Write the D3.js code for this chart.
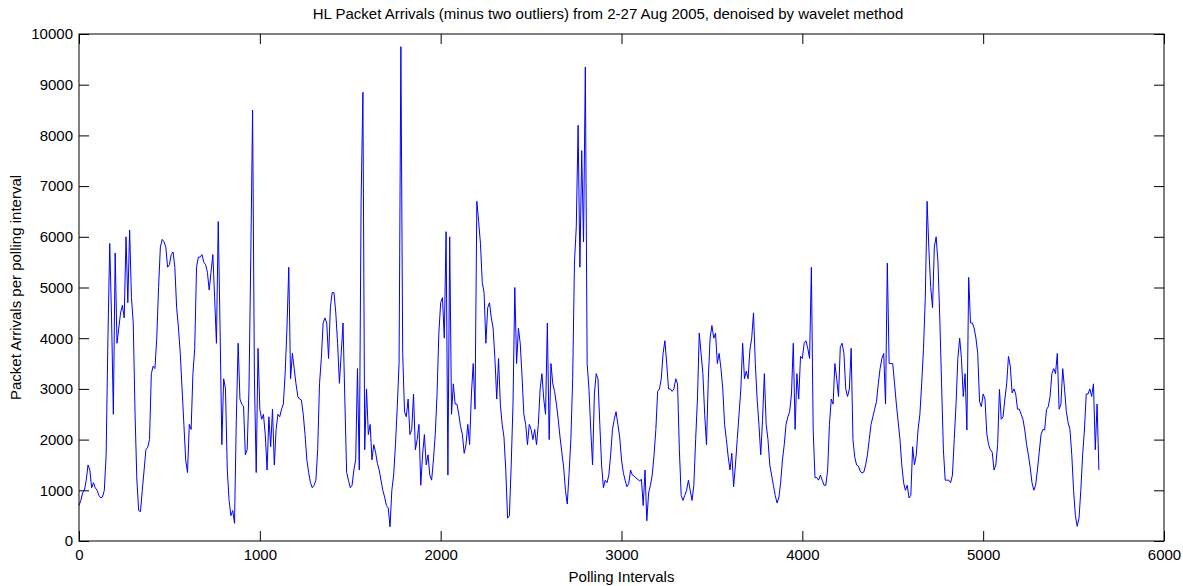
<!DOCTYPE html>
<html>
<head>
<meta charset="utf-8">
<script src="https://cdn.jsdelivr.net/npm/d3@7"></script>
<style>
  body { margin: 0; background: #fff; }
  svg text { font-family: "Liberation Sans", Arial, sans-serif; fill: #000; }
</style>
</head>
<body>
<div id="chart"></div>
<script>
// packet arrivals, one value every 10 polling intervals
var arrivals0 = [700,800,950,1000,1200,1500,1400,1050,1150,1050,
    1000,900,850,870,1000,1700,4000,5870,4400,2500,
    5680,3900,4200,4500,4650,4400,6000,4700,6130,4800,
    4300,2500,1200,600,580,1000,1400,1800,1850,2000,
    3300,3450,3400,4000,5000,5800,5950,5900,5800,5400,
    5450,5650,5700,5400,4600,4200,3700,3000,2300,1600,
    1350,2300,2200,3300,3800,5400,5600,5600,5650,5500,
    5450,5300,4950,5300,5650,4800,3900,6300,4200,1900,
    3200,3000,1400,800,500,600,350,2400,3900,2800,
    2700,2650,1700,1800,3000,5600,8500,3200,1350,3800];
var arrivals1 = [2600,2400,2500,2100,1400,2450,1860,2600,1500,2200,
    2500,2450,2600,2700,3300,4200,5400,3200,3700,3400,
    3100,2850,2800,2780,2500,2100,1600,1350,1150,1050,
    1100,1200,1800,3100,3600,4300,4400,4300,3600,4600,
    4900,4900,4500,3900,3110,3700,4300,2800,1350,1200,
    1050,1100,1400,1600,3400,1400,6700,8850,1800,3000,
    2100,2300,1600,1900,1750,1530,1400,1200,1000,870,
    700,650,280,1000,1300,1900,2650,3500,9750,3700,
    2550,2450,2800,2100,2200,2900,1800,2000,2300,1100,
    1700,2100,1500,1700,1300,1200,1600,2100,2900,4100];
var arrivals2 = [4700,4800,4000,6100,1300,6000,2500,3100,2700,2700,
    2500,2260,2100,1730,1900,2300,1900,2900,3500,2600,
    6700,6300,5870,5100,4900,3900,4600,4700,4400,4200,
    3600,2800,3600,2700,2300,2050,1400,450,500,1500,
    2700,5000,3500,4200,3900,3250,2500,2300,1900,2300,
    2200,2000,2200,1900,2300,3000,3300,2800,2500,4300,
    2000,3500,3100,2950,2700,2400,2050,1750,1460,1000,
    730,1330,2000,3200,5500,6200,8200,5400,7700,5900,
    9350,3500,3000,2190,1500,2900,3300,3200,2300,1500,
    1050,1200,1150,1300,1700,2200,2400,2550,2300,2050];
var arrivals3 = [1600,1350,1200,1070,1130,1400,1300,1280,1240,1220,
    1180,1220,700,1400,400,950,1100,1300,1700,2200,
    2950,3000,3200,3700,3950,3500,3000,3000,2950,3000,
    3200,3100,1800,900,800,900,1000,1200,1000,800,
    1100,2000,2800,4100,3700,3300,2500,1900,3200,4000,
    4250,4000,4100,3500,3700,3400,3000,2300,2000,1660,
    1400,1730,1070,1500,2000,2500,3000,3900,3200,3350,
    3200,3770,4000,4500,3500,2800,2300,1700,2400,3300,
    2300,2000,1500,1300,1100,900,750,850,1150,1600,
    1900,2300,2450,2550,2900,3900,2200,3300,2800,3640];
var arrivals4 = [3600,3900,3950,3800,3600,5400,2190,1250,1250,1200,
    1300,1200,1100,1100,1400,2300,2800,2700,3500,3200,
    2850,3830,3900,3700,3000,2850,3000,3800,2000,1650,
    1500,1480,1380,1340,1360,1500,1700,2000,2300,2450,
    2600,2750,3100,3400,3600,3700,2700,5480,3500,3500,
    3500,3100,2700,2350,2000,1500,1150,1000,1100,850,
    900,1860,1500,1700,2200,2500,3100,3800,4800,6700,
    5740,5000,4600,5800,6000,5500,4400,3100,1800,1200,
    1200,1200,1150,1300,2000,2700,3600,4000,3600,2850,
    3300,2190,5200,4300,4300,4200,4000,3700,2750,2650];
var arrivals5 = [2900,2800,2120,1900,1800,1750,1400,1500,1900,2990,
    2400,2450,2800,3100,3640,3450,2920,3000,2900,2600,
    2600,2500,2400,2190,1900,1700,1450,1150,1000,1100,
    1400,1750,2100,2200,2190,2590,2650,2850,3300,3400,
    3300,3700,2600,2700,3400,3000,2550,2330,2200,1700,
    1000,500,290,450,1000,1700,2190,2900,2900,3000,
    2850,3100,1800,2700,1400];
var sampleStep = 10;

var xTicks = [0, 1000, 2000, 3000, 4000, 5000, 6000];
var yTicks = [0, 1000, 2000, 3000, 4000, 5000, 6000, 7000, 8000, 9000, 10000];

var titleText = "HL Packet Arrivals (minus two outliers) from 2-27 Aug 2005, denoised by wavelet method";
var xLabelText = "Polling Intervals";
var yLabelText = "Packet Arrivals per polling interval";

function drawChart() {
    var arrivals = arrivals0.concat(arrivals1, arrivals2, arrivals3, arrivals4, arrivals5);
    var series = arrivals.map(function (v, i) { return { x: i * sampleStep, y: v }; });

    var width = 1183, height = 586;
    var plotLeft = 79, plotRight = 1164, plotTop = 34, plotBottom = 541;

    var svg = d3.select("#chart").append("svg")
        .attr("width", width)
        .attr("height", height);

    var x = d3.scaleLinear().domain([0, 6000]).range([plotLeft, plotRight]);
    var y = d3.scaleLinear().domain([0, 10000]).range([plotBottom, plotTop]);

    // data line first, frame and ticks over it
    var line = d3.line()
        .x(function (d) { return x(d.x); })
        .y(function (d) { return y(d.y); });

    svg.append("path")
        .datum(series)
        .attr("d", line)
        .attr("fill", "none")
        .attr("stroke", "#0000ff")
        .attr("stroke-width", 1);

    var tickLen = 10;

    var gBottom = svg.append("g")
        .attr("transform", "translate(0," + plotBottom + ")")
        .call(d3.axisBottom(x).tickValues(xTicks).tickSizeInner(-tickLen).tickSizeOuter(0).tickPadding(8)
            .tickFormat(d3.format("d")));
    var gTop = svg.append("g")
        .attr("transform", "translate(0," + plotTop + ")")
        .call(d3.axisTop(x).tickValues(xTicks).tickSizeInner(-tickLen).tickSizeOuter(0).tickFormat(""));
    var gLeft = svg.append("g")
        .attr("transform", "translate(" + plotLeft + ",0)")
        .call(d3.axisLeft(y).tickValues(yTicks).tickSizeInner(-tickLen).tickSizeOuter(0).tickPadding(6)
            .tickFormat(d3.format("d")));
    var gRight = svg.append("g")
        .attr("transform", "translate(" + plotRight + ",0)")
        .call(d3.axisRight(y).tickValues(yTicks).tickSizeInner(-tickLen).tickSizeOuter(0).tickFormat(""));

    [gBottom, gTop, gLeft, gRight].forEach(function (g) {
        g.select(".domain").remove();
        g.selectAll(".tick line").attr("stroke", "#000").attr("stroke-width", 1);
        g.selectAll(".tick text").style("font-size", "15px").attr("fill", "#000");
    });

    svg.append("rect")
        .attr("x", plotLeft)
        .attr("y", plotTop)
        .attr("width", plotRight - plotLeft)
        .attr("height", plotBottom - plotTop)
        .attr("fill", "none")
        .attr("stroke", "#000")
        .attr("stroke-width", 1);

    svg.append("text")
        .attr("x", 608)
        .attr("y", 19)
        .attr("text-anchor", "middle")
        .style("font-size", "15px")
        .text(titleText);

    svg.append("text")
        .attr("x", (plotLeft + plotRight) / 2)
        .attr("y", 582)
        .attr("text-anchor", "middle")
        .style("font-size", "15px")
        .text(xLabelText);

    svg.append("text")
        .attr("transform", "translate(21," + ((plotTop + plotBottom) / 2) + ") rotate(-90)")
        .attr("text-anchor", "middle")
        .style("font-size", "15px")
        .text(yLabelText);
}

drawChart();
</script>
</body>
</html>
